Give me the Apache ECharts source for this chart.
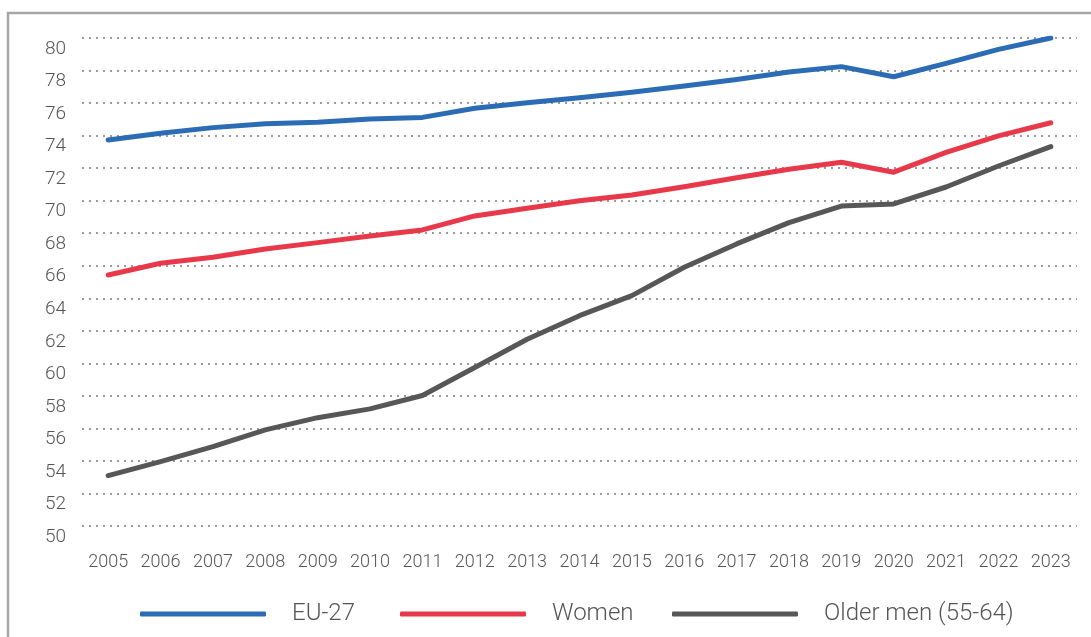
<!DOCTYPE html>
<html>
<head>
<meta charset="utf-8">
<script src="https://cdn.jsdelivr.net/npm/echarts@6/dist/echarts.min.js"></script>
<style>
html,body{margin:0;padding:0;background:#fff;}
#c{width:1091px;height:637px;}
</style>
</head>
<body>
<div id="c"></div>
<script>
const years = ['2005','2006','2007','2008','2009','2010','2011','2012','2013','2014','2015','2016','2017','2018','2019','2020','2021','2022','2023'];
const eu27 = [73.73, 74.15, 74.49, 74.73, 74.82, 75.02, 75.12, 75.68, 76.02, 76.33, 76.66, 77.05, 77.45, 77.91, 78.24, 77.62, 78.44, 79.3, 80.0];
const women = [65.43, 66.15, 66.52, 67.03, 67.42, 67.83, 68.2, 69.06, 69.53, 70.0, 70.35, 70.86, 71.41, 71.93, 72.36, 71.75, 72.97, 73.98, 74.79];
const olderMen = [53.1, 53.96, 54.88, 55.91, 56.66, 57.2, 58.02, 59.74, 61.48, 62.93, 64.16, 65.91, 67.34, 68.65, 69.67, 69.8, 70.84, 72.13, 73.32];
const seriesNames = ['EU-27', 'Women', 'Older men (55-64)'];

const colors = ['#2b6cb5', '#e8394a', '#575757'];
const font = 'Roboto, "Noto Sans", sans-serif';

const chart = echarts.init(document.getElementById('c'), null, {renderer: 'canvas'});

function legendAt(name, left) {
  return {
    data: [name],
    left: left,
    top: 597,
    icon: 'roundRect',
    itemWidth: 126,
    itemHeight: 5,
    selectedMode: false,
    textStyle: {fontFamily: font, fontSize: 24, fontWeight: 300, color: '#555', padding: [0, 0, 0, 21]}
  };
}

const option = {
  animation: false,
  backgroundColor: '#fff',
  color: colors,
  graphic: [{
    type: 'rect',
    shape: {x: 8, y: 13, width: 1300, height: 900},
    style: {fill: 'none', stroke: '#a6a6a6', lineWidth: 2.5},
    z: -1, silent: true
  }],
  grid: {left: 82, right: 14, top: 38, bottom: 111},
  legend: [legendAt(seriesNames[0], 135), legendAt(seriesNames[1], 395), legendAt(seriesNames[2], 667)],
  xAxis: {
    type: 'category',
    data: years,
    boundaryGap: true,
    axisLine: {show: false},
    axisTick: {show: false},
    axisLabel: {fontFamily: font, fontSize: 18, fontWeight: 300, color: '#555', margin: 27, interval: 0}
  },
  yAxis: {
    type: 'value',
    min: 50, max: 80, interval: 2,
    axisLine: {show: false},
    axisTick: {show: false},
    axisLabel: {fontFamily: font, fontSize: 19, fontWeight: 300, color: '#555', margin: 16, verticalAlign: 'top', lineHeight: 22},
    splitLine: {show: true, lineStyle: {color: '#7a7a7a', width: 1.5, type: [2, 5]}}
  },
  series: [
    {name: seriesNames[0], type: 'line', data: eu27, showSymbol: false, symbol: 'none',
     lineStyle: {width: 5, color: colors[0], cap: 'round', join: 'round'}},
    {name: seriesNames[1], type: 'line', data: women, showSymbol: false, symbol: 'none',
     lineStyle: {width: 5, color: colors[1], cap: 'round', join: 'round'}},
    {name: seriesNames[2], type: 'line', data: olderMen, showSymbol: false, symbol: 'none',
     lineStyle: {width: 5, color: colors[2], cap: 'round', join: 'round'}}
  ]
};
chart.setOption(option);
</script>
</body>
</html>
